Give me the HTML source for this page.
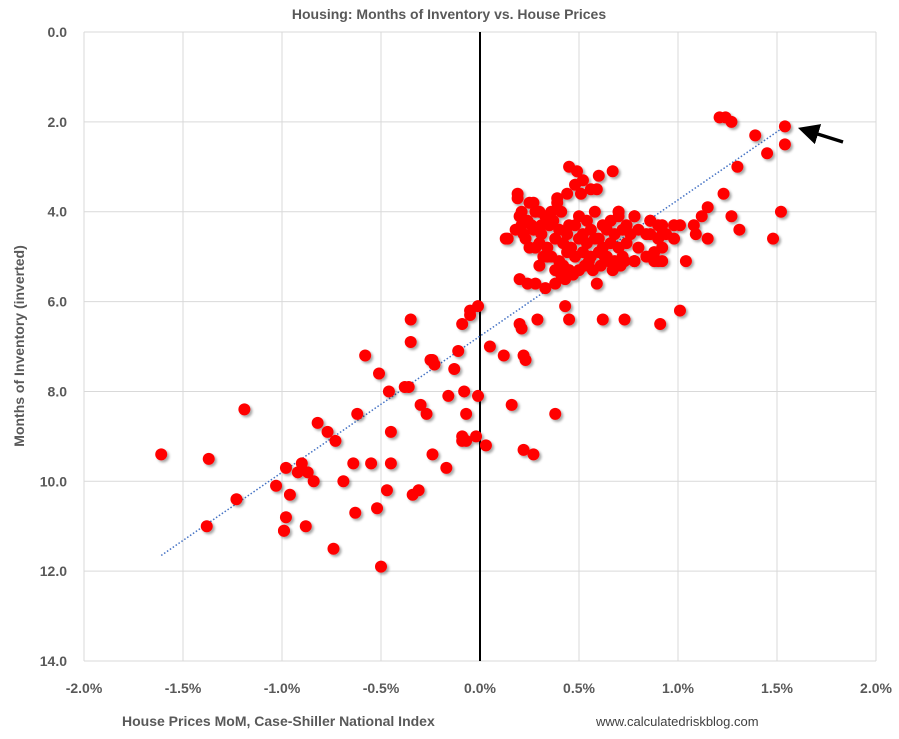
<!DOCTYPE html>
<html><head><meta charset="utf-8"><style>
body{margin:0;background:#fff;font-family:"Liberation Sans",sans-serif;}
svg text{font-family:"Liberation Sans",sans-serif;}
</style></head><body>
<svg id="chart" width="899" height="734">
<defs><filter id="sh" x="-50%" y="-50%" width="200%" height="200%"><feDropShadow dx="2" dy="2" stdDeviation="1.2" flood-color="#000" flood-opacity="0.35"/></filter>
<marker id="ah" markerWidth="6" markerHeight="6" refX="3" refY="3" orient="auto"><path d="M0,0 L6,3 L0,6 z" fill="#000"/></marker></defs>
<text x="449" y="19" text-anchor="middle" font-size="14" font-weight="bold" fill="#595959">Housing: Months of Inventory vs. House Prices</text>
<g id="grid"></g><g id="trend"></g><g id="pts" filter="url(#sh)"></g><g id="labels"></g>
<text x="122" y="726" font-size="14" font-weight="bold" fill="#595959">House Prices MoM, Case-Shiller National Index</text>
<text x="596" y="726" font-size="13" fill="#404040">www.calculatedriskblog.com</text>
<text transform="translate(24,346) rotate(-90)" text-anchor="middle" font-size="14" font-weight="bold" fill="#595959">Months of Inventory (inverted)</text>
<line x1="843" y1="142" x2="808" y2="131" stroke="#000" stroke-width="3.5" marker-end="url(#ah)"/>
</svg>
<script>
const xTicks=[-2,-1.5,-1,-0.5,0,0.5,1,1.5,2];
const yTicks=[0,2,4,6,8,10,12,14];
const xs=[-1.61,-1.37,-1.19,-1.38,-1.23,-1.03,-0.99,-0.98,-0.99,-0.98,-0.96,-0.92,-0.90,-0.87,-0.84,-0.88,-0.82,-0.77,-0.73,-0.74,-0.69,-0.64,-0.63,-0.62,-0.58,-0.55,-0.52,-0.51,-0.50,-0.47,-0.46,-0.45,-0.45,-0.38,-0.36,-0.35,-0.35,-0.34,-0.31,-0.30,-0.27,-0.25,-0.24,-0.23,-0.24,-0.17,-0.16,-0.13,-0.11,-0.09,-0.08,-0.07,-0.09,-0.09,-0.07,-0.05,-0.05,-0.01,-0.01,-0.02,0.03,0.05,0.12,0.16,0.20,0.21,0.22,0.23,0.22,0.27,0.29,0.38,0.43,0.45,0.62,0.73,0.91,1.01,0.59,0.14,
0.45,0.49,0.60,0.67,0.48,0.52,0.56,0.59,0.51,0.44,0.19,0.19,0.39,0.39,0.25,0.27,0.30,0.36,0.21,0.21,0.26,0.31,0.13,0.70,0.78,0.86,0.90,
1.21,1.24,1.27,1.54,1.39,1.54,1.45,1.30,1.23,1.15,1.52,1.27,1.12,1.31,1.48,1.15,1.09,1.04,1.01,0.98,1.08,0.98,0.92,0.92,0.92,0.92,0.88,0.78,0.86,0.78,0.70,0.86,0.90,
0.20,0.24,0.28,0.33,0.37,0.41,0.45,0.50,0.54,0.58,0.62,0.66,0.70,0.74,0.22,0.27,0.31,0.35,0.40,0.44,0.48,0.52,0.56,0.60,0.64,0.68,0.72,0.76,0.80,0.84,0.25,0.30,0.34,0.38,0.42,0.46,0.50,0.54,0.58,0.62,0.66,0.70,0.74,0.80,0.88,0.32,0.36,0.40,0.44,0.48,0.52,0.56,0.60,0.64,0.68,0.72,0.78,0.84,0.90,0.20,0.24,0.28,0.45,0.53,0.57,0.61,0.65,0.69,0.73,0.94,0.30,0.34,0.38,0.42,0.47,0.55,0.63,0.67,0.71,0.38,0.43,0.50,0.18,0.23,0.28,0.33,0.41];
const ys=[9.4,9.5,8.4,11.0,10.4,10.1,11.1,10.8,11.1,9.7,10.3,9.8,9.6,9.8,10.0,11.0,8.7,8.9,9.1,11.5,10.0,9.6,10.7,8.5,7.2,9.6,10.6,7.6,11.9,10.2,8.0,8.9,9.6,7.9,7.9,6.9,6.4,10.3,10.2,8.3,8.5,7.3,7.3,7.4,9.4,9.7,8.1,7.5,7.1,6.5,8.0,8.5,9.0,9.1,9.1,6.3,6.2,6.1,8.1,9.0,9.2,7.0,7.2,8.3,6.5,6.6,7.2,7.3,9.3,9.4,6.4,8.5,6.1,6.4,6.4,6.4,6.5,6.2,5.6,4.6,
3.0,3.1,3.2,3.1,3.4,3.3,3.5,3.5,3.6,3.6,3.6,3.7,3.7,3.8,3.8,3.8,4.0,4.0,4.0,4.3,4.3,4.3,4.6,4.0,4.1,4.2,4.3,
1.9,1.9,2.0,2.1,2.3,2.5,2.7,3.0,3.6,3.9,4.0,4.1,4.1,4.4,4.6,4.6,4.5,5.1,4.3,4.3,4.3,4.6,4.3,4.5,4.8,5.1,5.1,5.1,4.2,4.1,4.0,4.5,4.6,
4.1,4.2,4.0,4.1,4.2,4.0,4.3,4.1,4.2,4.0,4.3,4.2,4.1,4.3,4.5,4.4,4.5,4.3,4.4,4.5,4.3,4.5,4.4,4.6,4.4,4.5,4.4,4.5,4.4,4.5,4.8,4.7,4.8,4.6,4.7,4.8,4.6,4.7,4.6,4.8,4.7,4.8,4.7,4.8,4.9,5.0,5.0,5.1,4.9,5.0,4.9,5.0,4.9,5.0,5.1,5.0,5.1,5.0,5.1,5.5,5.6,5.6,5.3,5.2,5.3,5.2,5.1,5.2,5.1,4.5,5.2,5.0,5.3,5.2,5.4,5.1,5.0,5.3,5.2,5.6,5.5,5.3,4.4,4.6,4.8,5.7,5.4];
const trendX=[-1.61,1.54], trendY=[11.65,2.1];
const NS="http://www.w3.org/2000/svg";
const X=v=>480+v*198, Y=v=>32+v*44.93;
function mk(t,a,p){const e=document.createElementNS(NS,t);for(const k in a)e.setAttribute(k,a[k]);p.appendChild(e);return e;}
const g=document.getElementById('grid'),L=document.getElementById('labels');
xTicks.forEach(t=>{const l=mk('line',{x1:X(t),x2:X(t),y1:32,y2:661,stroke:'#d9d9d9'},g);


const s=mk('text',{x:X(t),y:693,'text-anchor':'middle','font-size':14,'font-weight':'bold',fill:'#595959'},L);s.textContent=t.toFixed(1)+'%';

});
yTicks.forEach(t=>{const l=mk('line',{x1:84,x2:876,y1:Y(t),y2:Y(t),stroke:'#d9d9d9'},g);


const s=mk('text',{x:67,y:Y(t)+5,'text-anchor':'end','font-size':14,'font-weight':'bold',fill:'#595959'},L);s.textContent=t.toFixed(1);

});
const z=mk('line',{x1:X(0),x2:X(0),y1:32,y2:661,stroke:'#000','stroke-width':2},g);


const tr=mk('line',{x1:X(trendX[0]),y1:Y(trendY[0]),x2:X(trendX[1]),y2:Y(trendY[1]),stroke:'#4472c4','stroke-width':1.5,'stroke-dasharray':'1.5 2'},document.getElementById('trend'));


const P=document.getElementById('pts');
xs.forEach((v,i)=>{const c=mk('circle',{cx:X(v),cy:Y(ys[i]),r:6,fill:'#ff0000'},P);

});
</script>
</body></html>
